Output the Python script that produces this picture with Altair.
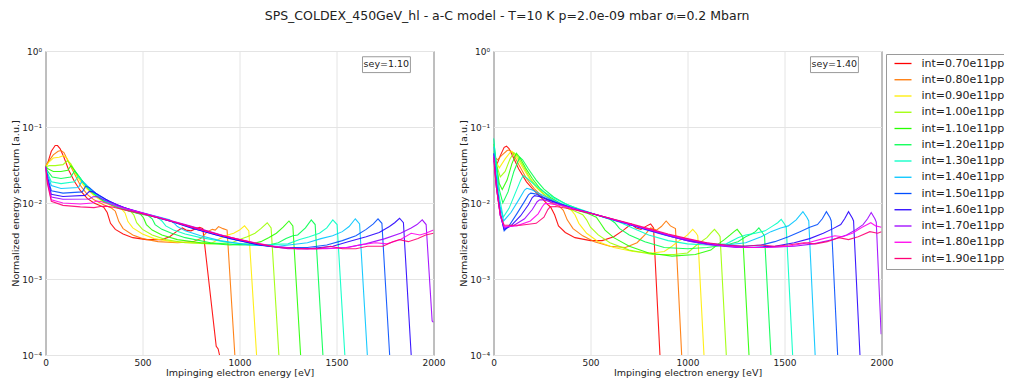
import altair as alt
import pandas as pd

TITLE = "SPS_COLDEX_450GeV_hl - a-C model - T=10 K p=2.0e-09 mbar \u03c3\u1d62=0.2 Mbarn"
INTENSITIES = ["0.70", "0.80", "0.90", "1.00", "1.10", "1.20", "1.30",
               "1.40", "1.50", "1.60", "1.70", "1.80", "1.90"]
LABELS = [f"int={s}e11ppb" for s in INTENSITIES]
COLORS = ["#ff0000", "#ff7600", "#ffec00", "#9dff00", "#27ff00", "#00ff4e", "#00ffc4",
          "#00c4ff", "#004eff", "#2700ff", "#9d00ff", "#ff00ec", "#ff0076"]
X_TICKS = [0, 500, 1000, 1500, 2000]
Y_TICKS = [1e-4, 1e-3, 1e-2, 1e-1, 1]
SEY_LEFT = "sey=1.10"
SEY_RIGHT = "sey=1.40"

# ---------------- sey = 1.10 (left panel): (energy eV, spectrum) ----------------
S110_I070 = [(0, 0.030), (12, 0.034), (30, 0.048), (50, 0.057), (62, 0.057), (75, 0.052), (95, 0.040),
             (120, 0.027), (150, 0.019), (180, 0.0145), (215, 0.0115), (250, 0.0100), (280, 0.0093),
             (300, 0.0088), (318, 0.0075), (335, 0.0054), (360, 0.0045), (400, 0.0039), (450, 0.0035),
             (520, 0.0033), (600, 0.0033), (640, 0.0036), (680, 0.0043), (705, 0.0047), (725, 0.0044),
             (750, 0.0043), (775, 0.0046), (795, 0.0048), (811, 0.0046), (880, 0.00013), (890, 0.00012),
             (897, 0.0001)]
S110_I080 = [(0, 0.030), (15, 0.035), (40, 0.043), (65, 0.048), (80, 0.049), (95, 0.046), (120, 0.034),
             (150, 0.024), (180, 0.017), (215, 0.0130), (250, 0.0110), (300, 0.0095), (340, 0.0086),
             (360, 0.0078), (378, 0.0057), (400, 0.0046), (450, 0.0038), (500, 0.0034), (580, 0.0031),
             (680, 0.0030), (760, 0.0031), (800, 0.0034), (835, 0.0042), (860, 0.0045), (875, 0.0044),
             (892, 0.0049), (915, 0.0046), (936, 0.0044), (976, 0.0001)]
S110_I090 = [(0, 0.030), (15, 0.034), (40, 0.039), (70, 0.040), (93, 0.042), (110, 0.039), (135, 0.030),
             (165, 0.022), (200, 0.0165), (250, 0.0125), (300, 0.0102), (350, 0.0090), (395, 0.0082),
             (410, 0.0074), (425, 0.0057), (450, 0.0047), (500, 0.0039), (560, 0.0034), (650, 0.0031),
             (760, 0.0030), (860, 0.0030), (900, 0.0034), (940, 0.0038), (970, 0.0040), (1000, 0.0044),
             (1026, 0.0050), (1048, 0.0043), (1088, 0.0001)]
S110_I100 = [(0, 0.030), (20, 0.031), (50, 0.031), (90, 0.032), (112, 0.036), (130, 0.033), (160, 0.024),
             (200, 0.0175), (250, 0.0130), (300, 0.0105), (350, 0.0092), (400, 0.0083), (440, 0.0077),
             (455, 0.0070), (470, 0.0055), (500, 0.0045), (550, 0.0038), (620, 0.0033), (720, 0.0030),
             (850, 0.0029), (960, 0.0030), (1000, 0.0033), (1040, 0.0036), (1080, 0.0040), (1110, 0.0046),
             (1143, 0.0055), (1163, 0.0047), (1203, 0.0001)]
S110_I110 = [(0, 0.030), (15, 0.028), (40, 0.026), (80, 0.026), (115, 0.027), (131, 0.031), (150, 0.027),
             (180, 0.021), (220, 0.0155), (260, 0.0125), (300, 0.0105), (350, 0.0092), (400, 0.0083),
             (450, 0.0076), (490, 0.0071), (505, 0.0064), (520, 0.0052), (550, 0.0044), (600, 0.0038),
             (680, 0.0033), (800, 0.0030), (950, 0.0028), (1060, 0.0029), (1110, 0.0031), (1150, 0.0035),
             (1190, 0.0040), (1225, 0.0048), (1255, 0.0058), (1275, 0.0050), (1315, 0.0001)]
S110_I120 = [(0, 0.030), (12, 0.026), (35, 0.022), (80, 0.021), (130, 0.022), (150, 0.0265), (170, 0.023),
             (200, 0.018), (240, 0.0140), (280, 0.0115), (330, 0.0097), (400, 0.0083), (470, 0.0074),
             (530, 0.0068), (550, 0.0062), (565, 0.0052), (600, 0.0045), (650, 0.0040), (720, 0.0035),
             (850, 0.0030), (1000, 0.0028), (1150, 0.0028), (1200, 0.0030), (1240, 0.0034), (1275, 0.0037),
             (1300, 0.0038), (1340, 0.0047), (1370, 0.0060), (1390, 0.0052), (1430, 0.0001)]
S110_I130 = [(0, 0.030), (10, 0.025), (30, 0.019), (80, 0.018), (150, 0.019), (169, 0.0227), (185, 0.020),
             (215, 0.016), (260, 0.0128), (310, 0.0105), (380, 0.0088), (450, 0.0078), (520, 0.0070),
             (580, 0.0064), (600, 0.0058), (620, 0.0050), (660, 0.0044), (720, 0.0039), (800, 0.0035),
             (950, 0.0030), (1100, 0.0028), (1250, 0.0029), (1310, 0.0033), (1360, 0.0036), (1412, 0.0040),
             (1450, 0.0047), (1481, 0.0060), (1503, 0.0052), (1543, 0.0001)]
S110_I140 = [(0, 0.030), (10, 0.024), (30, 0.017), (80, 0.0155), (170, 0.016), (188, 0.0194), (205, 0.018),
             (240, 0.0145), (290, 0.0115), (350, 0.0095), (420, 0.0084), (500, 0.0074), (580, 0.0066),
             (640, 0.0060), (660, 0.0055), (680, 0.0049), (720, 0.0043), (800, 0.0037), (900, 0.0032),
             (1050, 0.0028), (1200, 0.0027), (1350, 0.0030), (1420, 0.0034), (1480, 0.0037), (1530, 0.0042),
             (1565, 0.0049), (1597, 0.0062), (1619, 0.0053), (1659, 0.0001)]
S110_I150 = [(0, 0.030), (10, 0.022), (30, 0.0145), (90, 0.0135), (190, 0.0140), (207, 0.0166), (225, 0.016),
             (260, 0.0135), (310, 0.0112), (370, 0.0094), (450, 0.0079), (550, 0.0067), (650, 0.0057),
             (750, 0.0047), (850, 0.0040), (950, 0.0034), (1050, 0.0030), (1150, 0.0027), (1250, 0.0026),
             (1350, 0.0026), (1450, 0.0028), (1530, 0.0032), (1600, 0.0037), (1653, 0.0045), (1690, 0.0053),
             (1714, 0.0062), (1734, 0.0054), (1774, 0.0001)]
S110_I160 = [(0, 0.030), (10, 0.021), (30, 0.013), (90, 0.0122), (205, 0.0126), (226, 0.0142), (245, 0.0140),
             (280, 0.0124), (330, 0.0105), (400, 0.0088), (480, 0.0076), (580, 0.0064), (680, 0.0054),
             (780, 0.0045), (880, 0.0038), (980, 0.0033), (1100, 0.0028), (1200, 0.0026), (1350, 0.0025),
             (1481, 0.0027), (1560, 0.0031), (1653, 0.0036), (1720, 0.0041), (1773, 0.0049), (1800, 0.0055),
             (1825, 0.0063), (1845, 0.0055), (1885, 0.0001)]
S110_I170 = [(0, 0.030), (10, 0.020), (30, 0.0120), (90, 0.0112), (225, 0.0113), (245, 0.0121), (265, 0.0122),
             (300, 0.0110), (360, 0.0096), (430, 0.0083), (520, 0.0072), (620, 0.0061), (720, 0.0052),
             (820, 0.0044), (920, 0.0037), (1020, 0.0032), (1120, 0.0028), (1250, 0.0025), (1400, 0.0025),
             (1550, 0.0026), (1650, 0.0029), (1750, 0.0034), (1830, 0.0040), (1885, 0.0047), (1915, 0.0052),
             (1942, 0.0060), (1962, 0.0052), (1993, 0.00028), (2000, 0.00027)]
S110_I180 = [(0, 0.030), (10, 0.019), (30, 0.0110), (90, 0.0100), (180, 0.0097), (240, 0.0100), (264, 0.0106),
             (290, 0.0104), (330, 0.0097), (400, 0.0086), (480, 0.0076), (580, 0.0065), (680, 0.0055),
             (780, 0.0046), (880, 0.0039), (980, 0.0034), (1080, 0.0030), (1180, 0.0027), (1300, 0.0025),
             (1450, 0.0025), (1560, 0.0026), (1620, 0.0028), (1700, 0.0030), (1760, 0.0029), (1830, 0.0033),
             (1885, 0.0040), (1930, 0.0038), (1960, 0.0040), (2000, 0.0044)]
S110_I190 = [(0, 0.030), (10, 0.018), (30, 0.0105), (90, 0.0093), (180, 0.0089), (250, 0.0087), (283, 0.0090),
             (310, 0.0091), (350, 0.0088), (420, 0.0080), (500, 0.0072), (600, 0.0062), (700, 0.0053),
             (800, 0.0045), (900, 0.0038), (1000, 0.0033), (1100, 0.0029), (1200, 0.0026), (1300, 0.0025),
             (1400, 0.0025), (1470, 0.0027), (1530, 0.0025), (1600, 0.0025), (1660, 0.0027), (1739, 0.0027),
             (1790, 0.0031), (1825, 0.0033), (1870, 0.0031), (1920, 0.0034), (1960, 0.0038), (2000, 0.0040)]

# ---------------- sey = 1.40 (right panel) ----------------
S140_I070 = [(0, 0.036), (15, 0.031), (35, 0.042), (55, 0.054), (67, 0.056), (80, 0.052), (100, 0.041),
             (130, 0.028), (170, 0.019), (210, 0.0145), (250, 0.0115), (280, 0.0095), (295, 0.0088),
             (315, 0.0070), (335, 0.0050), (370, 0.0041), (420, 0.0035), (500, 0.0032), (560, 0.0032),
             (620, 0.0036), (670, 0.0044), (710, 0.0053), (735, 0.0047), (760, 0.0045), (790, 0.0050),
             (810, 0.0053), (825, 0.0047), (858, 0.0001)]
S140_I080 = [(0, 0.042), (20, 0.037), (45, 0.043), (70, 0.049), (82, 0.050), (100, 0.045), (130, 0.032),
             (170, 0.021), (210, 0.0155), (250, 0.0122), (300, 0.0100), (340, 0.0090), (360, 0.0080),
             (380, 0.0060), (410, 0.0046), (460, 0.0037), (520, 0.0031), (600, 0.0027), (680, 0.0026),
             (740, 0.0030), (780, 0.0038), (810, 0.0047), (840, 0.0044), (865, 0.0049), (890, 0.0058),
             (912, 0.0050), (938, 0.0046), (970, 0.0001)]
S140_I090 = [(0, 0.042), (15, 0.034), (30, 0.029), (60, 0.038), (85, 0.046), (95, 0.048), (115, 0.042),
             (145, 0.031), (180, 0.022), (220, 0.0160), (260, 0.0128), (310, 0.0104), (360, 0.0090),
             (400, 0.0081), (420, 0.0070), (440, 0.0054), (480, 0.0040), (540, 0.0031), (620, 0.0026),
             (720, 0.0023), (820, 0.0022), (880, 0.0023), (920, 0.0027), (950, 0.0031), (975, 0.0034),
             (1000, 0.0038), (1027, 0.0045), (1045, 0.0040), (1053, 0.0037), (1085, 0.0001)]
S140_I100 = [(0, 0.048), (15, 0.032), (35, 0.022), (60, 0.026), (85, 0.038), (105, 0.046), (125, 0.041),
             (155, 0.030), (190, 0.021), (230, 0.0155), (270, 0.0125), (320, 0.0102), (370, 0.0088),
             (420, 0.0078), (460, 0.0070), (480, 0.0060), (500, 0.0048), (540, 0.0038), (600, 0.0030),
             (700, 0.0024), (820, 0.0021), (930, 0.0021), (1000, 0.0022), (1040, 0.0027), (1070, 0.0031),
             (1100, 0.0035), (1120, 0.0040), (1139, 0.0045), (1160, 0.0039), (1168, 0.0036), (1200, 0.0001)]
S140_I110 = [(0, 0.060), (12, 0.035), (30, 0.018), (45, 0.015), (70, 0.020), (95, 0.033), (118, 0.045),
             (135, 0.040), (165, 0.029), (200, 0.021), (240, 0.0155), (290, 0.0120), (350, 0.0097),
             (420, 0.0082), (490, 0.0072), (530, 0.0065), (550, 0.0055), (575, 0.0044), (620, 0.0035),
             (700, 0.0027), (800, 0.0022), (920, 0.0020), (1040, 0.0021), (1120, 0.0024), (1160, 0.0029),
             (1190, 0.0033), (1220, 0.0038), (1240, 0.0042), (1256, 0.0045), (1275, 0.0039), (1285, 0.0036),
             (1317, 0.0001)]
S140_I120 = [(0, 0.070), (12, 0.038), (30, 0.015), (48, 0.010), (75, 0.014), (105, 0.026), (135, 0.040),
             (150, 0.037), (180, 0.028), (220, 0.020), (260, 0.0152), (310, 0.0120), (370, 0.0098),
             (440, 0.0083), (520, 0.0071), (600, 0.0061), (625, 0.0055), (650, 0.0046), (700, 0.0038),
             (780, 0.0031), (880, 0.0026), (1000, 0.0025), (1100, 0.0026), (1200, 0.0028), (1260, 0.0031),
             (1300, 0.0036), (1330, 0.0039), (1350, 0.0042), (1368, 0.0047), (1388, 0.0040), (1397, 0.0037),
             (1430, 0.0001)]
S140_I130 = [(0, 0.072), (12, 0.035), (30, 0.012), (50, 0.0065), (80, 0.0085), (115, 0.014), (140, 0.020),
             (153, 0.023), (175, 0.021), (210, 0.0175), (260, 0.0140), (320, 0.0113), (390, 0.0093),
             (470, 0.0079), (560, 0.0066), (650, 0.0056), (700, 0.0049), (740, 0.0044), (800, 0.0038),
             (900, 0.0032), (1000, 0.0029), (1100, 0.0028), (1200, 0.0029), (1260, 0.0035), (1300, 0.0038),
             (1350, 0.0040), (1400, 0.0043), (1440, 0.0050), (1465, 0.0055), (1483, 0.0061), (1500, 0.0053),
             (1509, 0.0048), (1542, 0.0001)]
S140_I140 = [(0, 0.055), (12, 0.027), (30, 0.010), (52, 0.0058), (90, 0.0075), (130, 0.011), (160, 0.0148),
             (172, 0.0156), (195, 0.0150), (230, 0.0135), (280, 0.0117), (340, 0.0100), (410, 0.0086),
             (490, 0.0075), (580, 0.0064), (680, 0.0054), (780, 0.0045), (880, 0.0038), (980, 0.0033),
             (1100, 0.0029), (1200, 0.0028), (1300, 0.0030), (1380, 0.0036), (1430, 0.0042), (1480, 0.0047),
             (1520, 0.0050), (1560, 0.0060), (1595, 0.0077), (1615, 0.0065), (1625, 0.0058), (1658, 0.0001)]
S140_I150 = [(0, 0.045), (15, 0.018), (35, 0.0075), (55, 0.0043), (80, 0.0050), (120, 0.0072), (160, 0.0105),
             (180, 0.0128), (192, 0.0135), (215, 0.0132), (260, 0.0118), (320, 0.0102), (400, 0.0087),
             (490, 0.0075), (580, 0.0065), (680, 0.0055), (780, 0.0046), (880, 0.0039), (980, 0.0034),
             (1080, 0.0030), (1180, 0.0028), (1280, 0.0027), (1380, 0.0028), (1450, 0.0031), (1520, 0.0036),
             (1580, 0.0042), (1630, 0.0048), (1670, 0.0052), (1695, 0.0062), (1716, 0.0077), (1735, 0.0064),
             (1741, 0.0058), (1774, 0.0001)]
S140_I160 = [(0, 0.045), (15, 0.017), (35, 0.0070), (55, 0.0045), (90, 0.0050), (140, 0.0068), (180, 0.0095),
             (200, 0.0118), (212, 0.0125), (235, 0.0122), (280, 0.0110), (340, 0.0097), (420, 0.0083),
             (510, 0.0072), (600, 0.0062), (700, 0.0052), (800, 0.0044), (900, 0.0037), (1000, 0.0032),
             (1100, 0.0029), (1200, 0.0027), (1320, 0.0026), (1450, 0.0027), (1550, 0.0030), (1630, 0.0034),
             (1700, 0.0040), (1750, 0.0046), (1790, 0.0052), (1810, 0.0062), (1830, 0.0077), (1850, 0.0063),
             (1856, 0.0058), (1889, 0.0001)]
S140_I170 = [(0, 0.042), (15, 0.016), (35, 0.0068), (55, 0.0047), (100, 0.0050), (160, 0.0062), (200, 0.0082),
             (225, 0.0104), (238, 0.0110), (260, 0.0110), (300, 0.0102), (360, 0.0093), (440, 0.0080),
             (530, 0.0070), (620, 0.0060), (720, 0.0051), (820, 0.0043), (920, 0.0036), (1020, 0.0031),
             (1120, 0.0028), (1250, 0.0026), (1400, 0.0026), (1550, 0.0027), (1650, 0.0029), (1750, 0.0033),
             (1820, 0.0038), (1870, 0.0045), (1905, 0.0052), (1928, 0.0062), (1947, 0.0075), (1966, 0.0062),
             (1973, 0.0056), (1998, 0.00019), (2000, 0.00019)]
S140_I180 = [(0, 0.042), (15, 0.016), (35, 0.0068), (55, 0.0049), (120, 0.0050), (190, 0.0058), (230, 0.0072),
             (252, 0.0090), (264, 0.0098), (290, 0.0098), (330, 0.0094), (400, 0.0086), (480, 0.0076),
             (570, 0.0066), (660, 0.0057), (760, 0.0048), (860, 0.0041), (960, 0.0035), (1060, 0.0031),
             (1160, 0.0028), (1280, 0.0026), (1400, 0.0026), (1520, 0.0027), (1620, 0.0030), (1700, 0.0034),
             (1760, 0.0037), (1800, 0.0036), (1850, 0.0040), (1900, 0.0048), (1945, 0.0055), (1970, 0.0050),
             (2000, 0.0048)]
S140_I190 = [(0, 0.040), (15, 0.016), (35, 0.0070), (55, 0.0051), (140, 0.0051), (220, 0.0054), (260, 0.0065),
             (280, 0.0082), (292, 0.0089), (320, 0.0090), (370, 0.0086), (440, 0.0079), (520, 0.0071),
             (610, 0.0062), (700, 0.0054), (800, 0.0046), (900, 0.0039), (1000, 0.0034), (1100, 0.0030),
             (1200, 0.0028), (1300, 0.0027), (1380, 0.0028), (1450, 0.0027), (1520, 0.0028), (1600, 0.0030),
             (1660, 0.0029), (1720, 0.0031), (1780, 0.0035), (1830, 0.0033), (1880, 0.0036), (1940, 0.0042),
             (1980, 0.0040), (2000, 0.0042)]

LEFT_SERIES = [S110_I070, S110_I080, S110_I090, S110_I100, S110_I110, S110_I120, S110_I130,
               S110_I140, S110_I150, S110_I160, S110_I170, S110_I180, S110_I190]
RIGHT_SERIES = [S140_I070, S140_I080, S140_I090, S140_I100, S140_I110, S140_I120, S140_I130,
                S140_I140, S140_I150, S140_I160, S140_I170, S140_I180, S140_I190]

FONT = "DejaVu Sans"
TXT = "#222222"
PANEL_W, PANEL_H = 388, 304
GAP = 60
LEG_W = 62.5

Y_LABEL_EXPR = ("datum.value >= 0.99 ? '10\u2070' : datum.value >= 0.099 ? '10\u207b\u00b9' : "
                "datum.value >= 0.0099 ? '10\u207b\u00b2' : datum.value >= 0.00099 ? '10\u207b\u00b3' : '10\u207b\u2074'")


def make_panel(series, sey_text):
    rows = []
    for lab, pts in zip(LABELS, series):
        for e, v in pts:
            rows.append({"label": lab, "E": e, "v": v})
    df = pd.DataFrame(rows)

    xscale = alt.Scale(domain=[0, 2000], nice=False, zero=False)
    yscale = alt.Scale(type="log", domain=[1e-4, 1], nice=False)
    xaxis = alt.Axis(title="Impinging electron energy [eV]", values=X_TICKS, labelFlush=False,
                     ticks=False, labelPadding=3, titlePadding=0, format="d")
    yaxis = alt.Axis(title="Normalized energy spectrum [a.u.]", values=Y_TICKS, labelExpr=Y_LABEL_EXPR,
                     ticks=False, labelPadding=4, titlePadding=1.5)

    lines = alt.Chart(df).mark_line(strokeWidth=1.1, opacity=0.9, clip=True).encode(
        x=alt.X("E:Q", scale=xscale, axis=xaxis),
        y=alt.Y("v:Q", scale=yscale, axis=yaxis),
        color=alt.Color("label:N", scale=alt.Scale(domain=LABELS, range=COLORS), legend=None),
    )

    ann = pd.DataFrame({"E": [1634], "E2": [1881], "v": [0.84], "v2": [0.52],
                        "Et": [1757], "vt": [0.665], "t": [sey_text]})
    box = alt.Chart(ann).mark_rect(fill="white", stroke="#9a9a9a", strokeWidth=1).encode(
        x=alt.X("E:Q", scale=xscale, axis=xaxis), x2="E2:Q",
        y=alt.Y("v:Q", scale=yscale, axis=yaxis), y2="v2:Q",
    )
    txt = alt.Chart(ann).mark_text(font=FONT, fontSize=9.5, color=TXT).encode(
        x=alt.X("Et:Q", scale=xscale, axis=xaxis),
        y=alt.Y("vt:Q", scale=yscale, axis=yaxis),
        text="t:N",
    )
    return alt.layer(lines, box, txt).properties(width=PANEL_W, height=PANEL_H)


left = make_panel(LEFT_SERIES, SEY_LEFT)
right = make_panel(RIGHT_SERIES, SEY_RIGHT)

# legend panel (view starts GAP px right of the right panel; box reaches back towards the plot)
BOX_L, BOX_T, BOX_B = -55, 3.5, 218.5
leg_df = pd.DataFrame({"label": LABELS})
leg_y = alt.Y("label:N", sort=LABELS,
              scale=alt.Scale(type="point", domain=LABELS, range=[12.5, 207.5], padding=0), axis=None)
one = pd.DataFrame({"k": [0]})
leg_fill = alt.Chart(one).mark_rect(fill="white", strokeWidth=0).encode(
    x=alt.value(BOX_L), x2=alt.value(LEG_W), y=alt.value(BOX_T), y2=alt.value(BOX_B))
leg_top = alt.Chart(one).mark_rule(color="#9a9a9a", strokeWidth=1).encode(
    x=alt.value(BOX_L), x2=alt.value(LEG_W), y=alt.value(BOX_T))
leg_bot = alt.Chart(one).mark_rule(color="#9a9a9a", strokeWidth=1).encode(
    x=alt.value(BOX_L), x2=alt.value(LEG_W), y=alt.value(BOX_B))
leg_side = alt.Chart(one).mark_rule(color="#9a9a9a", strokeWidth=1).encode(
    x=alt.value(BOX_L), y=alt.value(BOX_T), y2=alt.value(BOX_B))
leg_rule = alt.Chart(leg_df).mark_rule(strokeWidth=1.3).encode(
    x=alt.value(BOX_L + 8), x2=alt.value(BOX_L + 25), y=leg_y,
    color=alt.Color("label:N", scale=alt.Scale(domain=LABELS, range=COLORS), legend=None))
leg_text = alt.Chart(leg_df).mark_text(align="left", baseline="middle", font=FONT, fontSize=11,
                                        color=TXT, limit=83, ellipsis="\u200b").encode(
    x=alt.value(BOX_L + 35), y=leg_y, text="label:N")
legend = alt.layer(leg_fill, leg_top, leg_bot, leg_side, leg_rule, leg_text).properties(
    width=LEG_W, height=PANEL_H, view=alt.ViewBackground(strokeOpacity=0))

chart = alt.hconcat(
    left, right, legend, spacing=GAP, bounds="flush",
).properties(
    title=alt.TitleParams(TITLE, font=FONT, fontSize=12.5, fontWeight="normal", color=TXT,
                          anchor="middle", offset=23.6),
    padding={"left": 1.5, "top": 2, "right": 0, "bottom": 3},
).configure_view(
    stroke="#333333", strokeWidth=1
).configure_axis(
    labelFont=FONT, titleFont=FONT, labelFontSize=9, titleFontSize=9.5, titleFontWeight="normal",
    labelColor=TXT, titleColor=TXT, gridColor="#e4e4e4", gridWidth=1, domain=False,
)

chart.save("out.html", embed_options={"renderer": "svg", "actions": False})
